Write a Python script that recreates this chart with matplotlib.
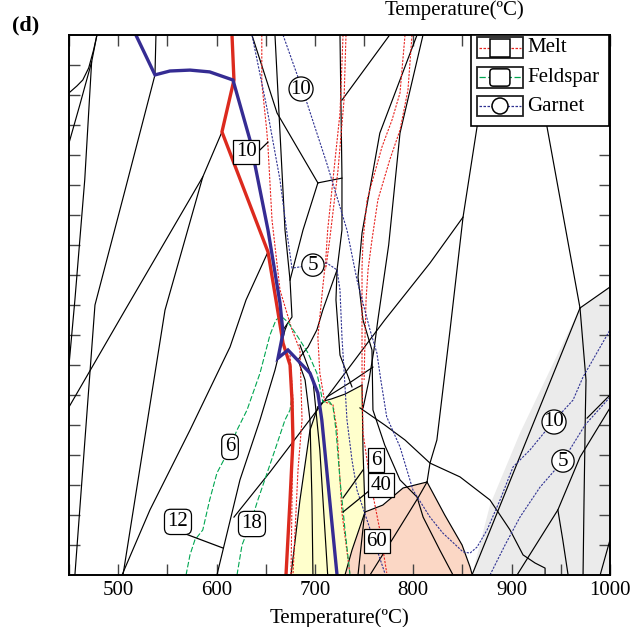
import matplotlib
matplotlib.use("Agg")
import matplotlib.pyplot as plt
from matplotlib.patches import Rectangle, FancyBboxPatch, Ellipse

plt.rcParams['font.family'] = ['Liberation Serif', 'DejaVu Serif']

# ---------------- data (temperature degC, pressure in axis units 0-18) ----------------
yellow_field = [(675.7,0),(684.8,2.5),(695,4.83),(703,5.6),(709,5.8),(717,5.87),(730.6,6.03),
                (743.8,6.23),(747.9,6.33),(748.9,4.17),(750.9,2.17),(737.7,0.83),(730.6,0)]
pink_field = [(730.6,0),(737.7,0.83),(750.9,2.1),(769,2.33),(789.6,2.9),(814,3.1),(832,2),
              (849.6,1),(857.7,0.27),(860,0)]
gray_field = [(859.7,0),(878,2.33),(908.5,4.73),(939,6.83),(969.5,8.9),(1000,9.6),(1000,0)]

thick_red = [(615.7,18),(617.7,16.5),(605.5,14.77),(652.3,10.77),(660.4,9.17),(667.6,7.73),
             (674.7,7),(676.7,5.83),(677.7,4.5),(674.7,2.5),(670.6,0)]
thick_blue = [(518,18),(537.4,16.67),(552.6,16.8),(573,16.83),(593,16.77),(616.7,16.5),(634,14.5),
              (652.3,11.5),(664.5,9.07),(667.6,8.07),(662.5,7.23),(672.6,7.5),(695,6.73),(703,6.07),
              (707,5.17),(722.5,0)]

black_lines = [
    [(450,16.07),(458,16.3),(464,16.5),(470,16.9),(475,17.5),(478.4,18)],
    [(450,14.4),(461,15.67),(473,17.1)],
    [(450,7),(456,9.17),(466,13.17),(473,17.1),(478.4,18)],
    [(538.4,18),(537.4,16.67)],
    [(537.4,16.67),(507,12.83),(476.4,9),(456,0)],
    [(605.5,14.77),(586,13.27),(507,8.83),(450,5.6)],
    [(586,13.27),(547.6,8.83),(504.9,0)],
    [(652.3,10.77),(630,9.17),(613.7,7.6),(573,4.83),(532.3,2.17),(503.9,0)],
    [(600.4,0),(623.8,3.17),(644.2,5.17),(659.4,6.83),(669.6,8.17),(671.6,8.33)],
    [(617.7,1.93),(654.3,3.43),(710,5.83),(771,8.5),(817,10.4),(850.6,11.93)],
    [(869.9,18),(864.8,14.93),(850.6,11.93),(837.4,8.17),(824,4.5),(817,3.73),(814,3.1)],
    [(918.7,18),(936,14.93),(969.5,8.9)],
    [(969.5,8.9),(1000,9.6)],
    [(859.7,0),(969.5,8.9)],
    [(969.5,8.9),(975.6,6.5),(975,5.5),(973.6,2.5),(972.6,0)],
    [(1000,6),(976.7,5.23)],
    [(1000,5.57),(969.5,3.93),(947,2.17),(905.5,0)],
    [(947,2.17),(952,1.17),(957.4,0)],
    [(1000,1.17),(990,0)],
    [(745.8,5.57),(771,5),(791.6,4.5),(817,3.73),(847.5,3.27),(878,2.5),(898.4,1.5),
     (911.6,0.67),(923.8,0.4),(934,0.23),(934,0)],
    [(814,3.1),(804.8,2.57),(781.4,1.33),(756,0)],
    [(803.8,18),(766,14.73),(747.9,11.4),(743.8,9.93),(748.9,8.5),(758,7.5),(759,5.5),
     (771,4.33),(786.5,3.17),(803.8,2.6),(810,1.93),(827,0.83),(840.4,0)],
    [(809.9,18),(786.5,14.73),(775,11),(764,8.5),(760,7.5),(755,6.5),(749,5.57)],
    [(747.9,6.33),(748.9,4.17),(750.9,2.17),(743.8,0)],
    [(730.6,0),(737.7,0.83),(750.9,2.1),(769,2.33),(789.6,2.9),(814,3.1)],
    [(814,3.1),(832,2),(849.6,1),(857.7,0.27),(860,0)],
    [(703,5.6),(709,5.8),(717,5.87),(730.6,6.03),(747.9,6.33)],
    [(675.7,0),(684.8,2.5),(695,4.83),(703,5.6)],
    [(712,5.93),(735,6.4),(759,6.93)],
    [(725.5,18),(727.5,13.27),(727.5,11.5),(722.5,10.17),(721.4,9.17),(725.5,7.33),(737.7,6.27)],
    [(722.5,10.17),(708,8.83),(702,8.17),(693,7.6),(688,7.4),(682.8,7.17)],
    [(636,18),(661.5,15.4),(703,13.07)],
    [(703,13.07),(727.5,13.23)],
    [(703,13.07),(687.9,11.5),(674.7,9.83)],
    [(659.4,18),(669.6,11.5),(674.7,9.83),(676.7,8.6),(667.6,8.17)],
    [(727.5,15.83),(776,18)],
    [(682.8,7.17),(690,6.5),(695,5.17),(697,2.5),(698,0)],
    [(684.8,7.67),(698,6.5),(705,4.17),(713,0)],
]

melt_lines = [
    [(646,18),(646,16.4),(651,14.83),(652.3,14.27),(656.4,11.83),(664.5,9.5),(676.7,8.17),
     (684.8,7.5),(686.9,5.17),(682.8,3.5),(677.7,0)],
    [(674.7,7.33),(677.7,5.83),(676.7,2.5),(675.7,0)],
    [(728.6,18),(725.5,15.4),(719.4,13.5),(713,11.5),(711,10.5),(708,9.6),(703,7.93),(705,6.73),
     (710,5.77),(718.4,5.67),(722.5,4.83),(727.5,2.07),(735.7,0)],
    [(731.6,18),(729.6,15.83),(723.5,13.5),(715,11.17),(711,10.2)],
    [(791.6,18),(786.5,16.07),(778.4,15.17),(768.2,14.27),(753,12.5),(749,11.17),(747.9,10.27),
     (747.9,9.17),(747.9,6.4),(748.9,4.73),(756,3.17),(766,1.5),(773,0.07)],
    [(798.7,18),(794.6,16.17),(786.5,14.83),(776,13.83),(764,12.5),(758,11.17),(754,10.17),
     (752,9.17),(751,8),(750,6.5)],
]

feldspar_lines = [
    [(569,0),(573,0.67),(578,1.17),(586,1.5),(593,2.5),(600.4,3.4),(611.6,4.1),(620.8,4.83),
     (631,5.5),(644.2,6.73),(654.3,8),(660.4,8.5),(665.5,8.63),(672.6,8.43),(682.8,7.93),(693,7.4),
     (702,6.73),(705,6.27),(708,5.77),(715,5.77),(718.4,5.6),(721.4,4.83),(725.5,3.17),(730.6,1.5),
     (735.7,0)],
    [(620.8,0),(625.9,1),(634,1.67),(642,2.5),(649,3.17),(659.4,4.17),(669.6,5.17),(674.7,5.5),
     (676.7,6)],
]

garnet_lines = [
    [(667.6,18),(690,15.93),(712,13.73),(732.6,11.5),(742.8,9.83),(756,8.17),(763,7.4),(767,6.5),
     (773,5.27),(786.5,4.27),(799.7,2.83),(817,1.93),(830,1.4),(850.6,0.77),(857.7,0.73),
     (864.8,0.93),(875,1.5),(888.2,2.5),(901.4,3.6),(918.7,4.17),(942,5.1),(962.4,5.83),
     (972.6,6.6),(1000,8.17)],
    [(636,18),(651,15.6),(664.5,13.17),(671.6,11.4),(676.7,10.23),(684.8,10.27),(698,10.33),
     (712,10.4),(722.5,10.17),(725.5,9.5),(727.5,7.93),(729.6,6.83),(732.6,5.17),(737.7,3.83),
     (742.8,2.83),(753,1.83),(771,0.07)],
    [(878,0),(893.3,1),(908.5,1.93),(928.9,2.93),(952,3.8),(974.6,5),(1000,5.93)],
]

# contour labels: (text, T, P, style)
labels = [("10", 630, 14.1, "square"), ("10", 685.9, 16.2, "circle"), ("5", 698, 10.33, "circle"),
          ("6", 613.7, 4.27, "round"), ("12", 560.8, 1.77, "round"), ("18", 636, 1.7, "round"),
          ("6", 762.1, 3.83, "square"), ("40", 767.2, 3.0, "square"), ("60", 763.1, 1.13, "square"),
          ("10", 943.1, 5.1, "circle"), ("5", 952.2, 3.8, "circle")]
leaders = [[(641,14.07),(652.3,14.43)], [(565.9,1.4),(606.5,0.9)],
           [(748.9,3.5),(728.6,2.57)], [(756,2.83),(728.6,2.1)]]

x_ticks = [500, 600, 700, 800, 900, 1000]
x_minor = [450, 550, 650, 750, 850, 950]
y_ticks = list(range(1, 18))
legend_names = ["Melt", "Feldspar", "Garnet"]

# ---------------- figure ----------------
fig = plt.figure(figsize=(6.39, 6.27), dpi=100)
ax = fig.add_axes([69/639, 1-575/627, 541/639, 540/627])
ax.set_xlim(450, 1000)
ax.set_ylim(0, 18)

def xs(pts): return [p[0] for p in pts]
def ys(pts): return [p[1] for p in pts]

ax.fill(xs(yellow_field), ys(yellow_field), facecolor='#ffffcc', edgecolor='none', zorder=1)
ax.fill(xs(pink_field), ys(pink_field), facecolor='#fbd7c5', edgecolor='none', zorder=1)
ax.fill(xs(gray_field), ys(gray_field), facecolor='#ebebeb', edgecolor='none', zorder=1)

for ln in black_lines:
    ax.plot(xs(ln), ys(ln), color='black', lw=0.85, zorder=3)
for ln in melt_lines:
    ax.plot(xs(ln), ys(ln), color='#e8231f', lw=0.8, dashes=(2, 1.2), zorder=4)
for ln in feldspar_lines:
    ax.plot(xs(ln), ys(ln), color='#00a651', lw=0.8, dashes=(5, 2), zorder=4)
for ln in garnet_lines:
    ax.plot(xs(ln), ys(ln), color='#2e3192', lw=0.8, dashes=(2, 1.2), zorder=4)

ax.plot(xs(thick_red), ys(thick_red), color='#dc2a1e', lw=2.4, zorder=5, solid_joinstyle='miter')
ax.plot(xs(thick_blue), ys(thick_blue), color='#352c93', lw=2.4, zorder=6, solid_joinstyle='miter')

for ln in leaders:
    ax.plot(xs(ln), ys(ln), color='black', lw=0.9, zorder=7)

for txt, t, p, st in labels:
    if st == "square":
        bs = "square,pad=0.12"
    elif st == "round":
        bs = "round,pad=0.15,rounding_size=0.3"
    else:
        bs = "circle,pad=0.08"
    ax.text(t, p, txt, ha='center', va='center', fontsize=15, zorder=8,
            bbox=dict(boxstyle=bs, fc='white', ec='black', lw=0.9))

# ticks
ax.set_xticks(x_ticks)
ax.set_xticks(x_minor, minor=True)
ax.set_yticks(y_ticks)
ax.set_yticklabels([])
ax.tick_params(which='both', direction='in', length=8, width=1.0, color='#444444',
               top=True, right=True, labelsize=15, pad=4)
for s in ax.spines.values():
    s.set_linewidth(1.4)
    s.set_zorder(10)

# legend drawn in axes coordinates
tr = ax.transAxes
ax.add_patch(Rectangle((0.743, 0.831), 0.998-0.743, 1-0.831, transform=tr, fc='white',
                       ec='black', lw=1.2, zorder=20, clip_on=False))
rows = [(0.9768, '#e8231f', (2, 1.2), 'sq'), (0.9213, '#00a651', (5, 2), 'rnd'),
        (0.8685, '#2e3192', (2, 1.2), 'circ')]
hh = 0.038   # handle height (axes fraction)
for (yc, col, ds, mk), name in zip(rows, legend_names):
    ax.add_patch(Rectangle((0.754, yc-hh/2), 0.085, hh, transform=tr, fc='white',
                           ec='#222222', lw=1.3, zorder=21, clip_on=False))
    ax.plot([0.757, 0.836], [yc, yc], transform=tr, color=col, lw=0.9, dashes=ds, zorder=22, clip_on=False)
    if mk == 'sq':
        ax.add_patch(Rectangle((0.778, yc-0.0167), 0.037, 0.0333, transform=tr, fc='white',
                               ec='black', lw=1.1, zorder=23, clip_on=False))
    elif mk == 'rnd':
        ax.add_patch(FancyBboxPatch((0.778, yc-0.016), 0.037, 0.032, transform=tr,
                                    boxstyle="round,pad=0,rounding_size=0.006", fc='white',
                                    ec='black', lw=1.1, zorder=23, clip_on=False))
    else:
        ax.add_patch(Ellipse((0.7967, yc), 16/541, 16/540, transform=tr, fc='white',
                             ec='black', lw=1.1, zorder=23, clip_on=False))
    ax.text(0.8466, yc, name, transform=tr, ha='left', va='center', fontsize=15, zorder=24)

fig.text(340/639, 1-623/627, "Temperature(ºC)", ha='center', va='baseline', fontsize=15)
fig.text(455/639, 0.999, "Temperature(ºC)", ha='center', va='top', fontsize=15)
fig.text(12/639, 1-30/627, "(d)", ha='left', va='baseline', fontsize=16, fontweight='bold')

fig.savefig("out.png", dpi=100)
